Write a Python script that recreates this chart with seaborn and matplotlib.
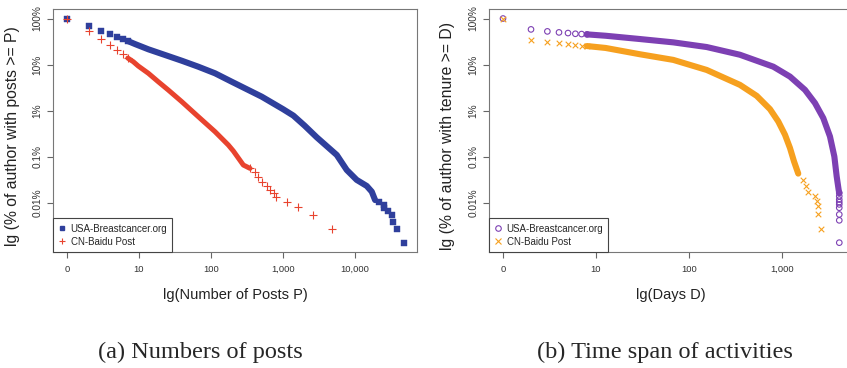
import matplotlib
matplotlib.use("Agg")
import matplotlib.pyplot as plt
from matplotlib.lines import Line2D
import seaborn as sns
import pandas as pd

# --- (a) number of posts: P vs % of authors with posts >= P ---
usa_posts_head_x = [1, 2, 3, 4, 5, 6, 7]
usa_posts_head_pct = [100, 68.7, 53.5, 46, 39.6, 35.8, 32.4]
usa_posts_band_x = [7, 8.79, 13.5, 23, 39.2, 66.7, 113.8, 193.6, 506, 1000, 1390, 1995,
                    2940, 5570, 7660, 10540, 14520, 17060, 18970]
usa_posts_band_pct = [32.4, 27.9, 21.4, 16.1, 12.1, 8.95, 6.44, 4.23, 2.0, 1.07, 0.776,
                      0.468, 0.261, 0.108, 0.051, 0.031, 0.0229, 0.0172, 0.0113]
usa_posts_tail_x = [21530, 25290, 25290, 28440, 32960, 34040, 38730, 47420]
usa_posts_tail_pct = [0.0104, 0.0088, 0.0077, 0.0065, 0.0053, 0.0038, 0.0026, 0.0013]

cn_posts_head_x = [1, 2, 3, 4, 5, 6, 7]
cn_posts_head_pct = [100, 52.7, 35.8, 26.5, 21.0, 17.2, 13.8]
cn_posts_band_x = [7, 8.34, 9.77, 13.5, 18.5, 25.5, 39.2, 66.7, 113.8, 173.8, 204, 281, 348]
cn_posts_band_pct = [13.8, 11.5, 9.27, 6.44, 4.23, 2.79, 1.56, 0.733, 0.346, 0.178, 0.132,
                     0.0653, 0.0553]
cn_posts_tail_x = [348, 408, 454, 506, 593, 659, 750, 800, 1125, 1633, 2582, 4742]
cn_posts_tail_pct = [0.0553, 0.0468, 0.0364, 0.0283, 0.0229, 0.0187, 0.0158, 0.0134,
                     0.0104, 0.0081, 0.0053, 0.00265]

# --- (b) time span: D vs % of authors with tenure >= D ---
usa_days_head_x = [1, 2, 3, 4, 5, 6, 7, 8]
usa_days_head_pct = [100, 58, 52.5, 49.9, 48.3, 46.6, 45.9, 45.2]
usa_days_band_x = [8, 12.7, 29.7, 67.8, 155, 353, 807, 1219, 1767, 2265, 2780, 3280,
                   3656, 3873, 4064, 4128]
usa_days_band_pct = [45.2, 42.2, 35.8, 30.3, 24.0, 16.3, 8.97, 5.46, 2.81, 1.45, 0.684,
                     0.273, 0.1, 0.037, 0.019, 0.016]
usa_days_tail_x = [4128, 4128, 4128, 4128, 4128, 4128, 4130, 4130, 4132]
usa_days_tail_pct = [0.0162, 0.0137, 0.0116, 0.0102, 0.0091, 0.0077, 0.0055, 0.0041, 0.00134]

cn_days_head_x = [1, 2, 3, 4, 5, 6, 7, 8]
cn_days_head_pct = [100, 34.5, 30.8, 28.9, 27.5, 26.5, 25.7, 25.2]
cn_days_band_x = [8, 12.7, 29.7, 67.8, 155, 353, 535, 743, 912, 1077, 1219, 1346, 1496]
cn_days_band_pct = [25.2, 22.9, 16.7, 12.6, 7.62, 3.61, 2.08, 1.07, 0.578, 0.297, 0.153,
                    0.0785, 0.0425]
cn_days_tail_x = [1694, 1795, 1919, 2265, 2399, 2460, 2460, 2624]
cn_days_tail_pct = [0.0315, 0.0225, 0.0167, 0.0137, 0.0107, 0.0083, 0.0057, 0.0027]

y_ticks = [100, 10, 1, 0.1, 0.01]
y_tick_labels = ["100%", "10%", "1%", "0.1%", "0.01%"]
posts_ticks = [1, 10, 100, 1000, 10000]
posts_tick_labels = ["0", "10", "100", "1,000", "10,000"]
days_ticks = [1, 10, 100, 1000]
days_tick_labels = ["0", "10", "100", "1,000"]
legend_names = ["USA-Breastcancer.org", "CN-Baidu Post"]

BLUE = "#2f3f9c"
RED = "#e8432e"
PURPLE = "#7d40b3"
ORANGE = "#f6a01f"

sns.set_style("ticks")
plt.rcParams["font.family"] = ["Liberation Sans", "DejaVu Sans"]

fig = plt.figure(figsize=(8.47, 3.68), dpi=100)
W, H = 847, 368


def px_axes(x0, x1, y0, y1):
    return fig.add_axes([x0 / W, (H - y1) / H, (x1 - x0) / W, (y1 - y0) / H])


ax1 = px_axes(53, 417, 9, 252)
ax2 = px_axes(489, 852, 9, 252)


def band(ax, xs, ys, color, lw):
    d = pd.DataFrame({"x": xs, "y": ys})
    sns.lineplot(data=d, x="x", y="y", ax=ax, color=color, lw=lw,
                 estimator=None, sort=False, solid_capstyle="round",
                 solid_joinstyle="round", legend=False)


def points(ax, xs, ys, **kw):
    d = pd.DataFrame({"x": xs, "y": ys})
    sns.scatterplot(data=d, x="x", y="y", ax=ax, legend=False, **kw)


# panel (a)
points(ax1, usa_posts_head_x + usa_posts_tail_x, usa_posts_head_pct + usa_posts_tail_pct,
       marker="s", s=14, color=BLUE, edgecolor=BLUE, linewidth=0.3, zorder=3)
band(ax1, usa_posts_band_x, usa_posts_band_pct, BLUE, 4.4)
points(ax1, cn_posts_head_x + cn_posts_tail_x, cn_posts_head_pct + cn_posts_tail_pct,
       marker="+", s=28, color=RED, linewidth=0.8, zorder=4)
band(ax1, cn_posts_band_x, cn_posts_band_pct, RED, 3.6)

# panel (b)
points(ax2, usa_days_head_x + usa_days_tail_x, usa_days_head_pct + usa_days_tail_pct,
       marker="o", s=16, facecolor="none", edgecolor=PURPLE, linewidth=0.8, zorder=3)
band(ax2, usa_days_band_x, usa_days_band_pct, PURPLE, 4.4)
points(ax2, cn_days_head_x + cn_days_tail_x, cn_days_head_pct + cn_days_tail_pct,
       marker="x", s=16, color=ORANGE, linewidth=0.8, zorder=4)
band(ax2, cn_days_band_x, cn_days_band_pct, ORANGE, 4.4)

for ax, xlim, ticks, labels, xlabel, ylabel, ylab_x in [
    (ax1, (0.64, 72400), posts_ticks, posts_tick_labels,
     "lg(Number of Posts P)", "lg (% of author with posts >= P)", -0.091),
    (ax2, (0.707, 5660), days_ticks, days_tick_labels,
     "lg(Days D)", "lg (% of author with tenure >= D)", -0.094),
]:
    ax.set_xscale("log")
    ax.set_yscale("log")
    ax.set_xlim(*xlim)
    ax.set_ylim(0.00084, 161)
    ax.set_xticks(ticks)
    ax.set_xticklabels(labels, fontsize=6.8)
    ax.set_yticks(y_ticks)
    ax.set_yticklabels(y_tick_labels, rotation=90, va="center", fontsize=7.3)
    ax.minorticks_off()
    ax.tick_params(axis="both", which="major", length=4.5, width=0.8, color="#666666",
                   labelcolor="#333333", direction="out",
                   bottom=True, left=True, top=False, right=False)
    ax.tick_params(axis="x", pad=5)
    ax.tick_params(axis="y", pad=3)
    ax.set_xlabel(xlabel, fontsize=10.5, labelpad=10, color="#222222")
    ax.set_ylabel(ylabel, fontsize=11.3, color="#222222")
    ax.yaxis.set_label_coords(ylab_x, 0.477)
    for sp in ax.spines.values():
        sp.set_visible(True)
        sp.set_color("#777777")
        sp.set_linewidth(0.8)

handles1 = [Line2D([], [], ls="none", marker="s", ms=3.5, color=BLUE),
            Line2D([], [], ls="none", marker="+", ms=5, mew=0.8, color=RED)]
handles2 = [Line2D([], [], ls="none", marker="o", ms=4, mfc="none", mew=0.8, color=PURPLE),
            Line2D([], [], ls="none", marker="x", ms=4, mew=0.8, color=ORANGE)]
for ax, hs in [(ax1, handles1), (ax2, handles2)]:
    leg = ax.legend(hs, legend_names, loc="lower left", borderaxespad=0,
                    fancybox=False, framealpha=1, edgecolor="#444444",
                    fontsize=7, handlelength=0.7, handletextpad=0.55,
                    labelspacing=0.3, borderpad=0.55)
    leg.get_frame().set_linewidth(0.8)

fig.text(200 / W, 1 - 352 / H, "(a) Numbers of posts", ha="center", va="center",
         family=["Liberation Serif", "DejaVu Serif"], fontsize=17.5)
fig.text(665 / W, 1 - 352 / H, "(b) Time span of activities", ha="center", va="center",
         family=["Liberation Serif", "DejaVu Serif"], fontsize=17.5)

fig.savefig("out.png", dpi=100)
